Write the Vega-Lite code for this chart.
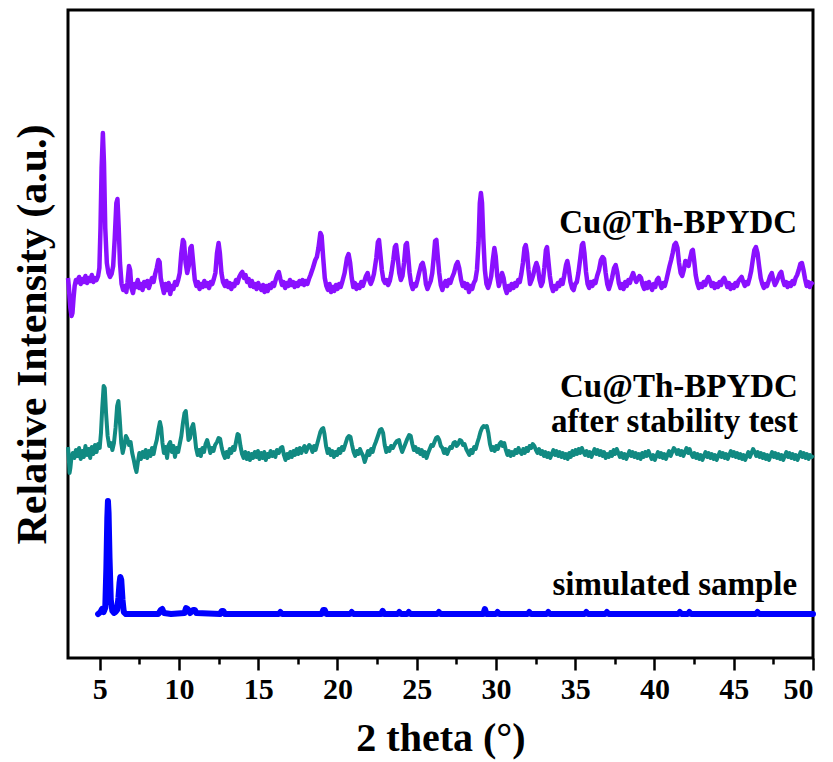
{
"$schema":"https://vega.github.io/schema/vega-lite/v6.json",
"width":745,"height":648,
"autosize":"none",
"padding":{"left":68,"top":10,"right":20,"bottom":104},
"config":{"view":{"stroke":"black","strokeWidth":3},"font":"Liberation Serif"},
"datasets":{
"p":[{"x":3.0,"y":380},{"x":3.05,"y":372},{"x":3.1,"y":360},{"x":3.15,"y":350},{"x":3.22,"y":342},{"x":3.28,"y":345},{"x":3.35,"y":360},{"x":3.42,"y":372},{"x":3.5,"y":378},{"x":3.6,"y":376},{"x":3.7,"y":381},{"x":3.8,"y":374},{"x":3.9,"y":379},{"x":4.0,"y":376},{"x":4.1,"y":382},{"x":4.2,"y":375},{"x":4.3,"y":380},{"x":4.4,"y":377},{"x":4.5,"y":383},{"x":4.6,"y":376},{"x":4.7,"y":380},{"x":4.8,"y":378},{"x":4.9,"y":382},{"x":4.98,"y":390},{"x":5.05,"y":430},{"x":5.12,"y":490},{"x":5.2,"y":525},{"x":5.27,"y":495},{"x":5.35,"y":430},{"x":5.45,"y":395},{"x":5.55,"y":385},{"x":5.65,"y":381},{"x":5.75,"y":384},{"x":5.85,"y":392},{"x":5.95,"y":420},{"x":6.05,"y":455},{"x":6.12,"y":459},{"x":6.2,"y":430},{"x":6.28,"y":395},{"x":6.38,"y":374},{"x":6.48,"y":368},{"x":6.58,"y":372},{"x":6.68,"y":366},{"x":6.75,"y":375},{"x":6.85,"y":392},{"x":6.92,"y":388},{"x":7.0,"y":370},{"x":7.1,"y":365},{"x":7.2,"y":374},{"x":7.3,"y":371},{"x":7.4,"y":378},{"x":7.5,"y":370},{"x":7.6,"y":374},{"x":7.7,"y":368},{"x":7.8,"y":376},{"x":7.9,"y":372},{"x":8.0,"y":377},{"x":8.1,"y":370},{"x":8.2,"y":375},{"x":8.3,"y":380},{"x":8.4,"y":376},{"x":8.5,"y":384},{"x":8.6,"y":390},{"x":8.7,"y":398},{"x":8.78,"y":396},{"x":8.85,"y":380},{"x":8.95,"y":372},{"x":9.05,"y":365},{"x":9.15,"y":374},{"x":9.25,"y":368},{"x":9.35,"y":375},{"x":9.45,"y":364},{"x":9.55,"y":372},{"x":9.65,"y":369},{"x":9.75,"y":376},{"x":9.85,"y":373},{"x":9.95,"y":378},{"x":10.05,"y":385},{"x":10.15,"y":405},{"x":10.25,"y":418},{"x":10.32,"y":416},{"x":10.42,"y":395},{"x":10.52,"y":385},{"x":10.62,"y":392},{"x":10.72,"y":410},{"x":10.8,"y":412},{"x":10.9,"y":395},{"x":11.0,"y":378},{"x":11.1,"y":372},{"x":11.2,"y":376},{"x":11.3,"y":369},{"x":11.4,"y":374},{"x":11.5,"y":371},{"x":11.6,"y":377},{"x":11.7,"y":372},{"x":11.8,"y":375},{"x":11.9,"y":370},{"x":12.0,"y":376},{"x":12.1,"y":374},{"x":12.2,"y":379},{"x":12.3,"y":385},{"x":12.4,"y":405},{"x":12.5,"y":415},{"x":12.58,"y":405},{"x":12.68,"y":385},{"x":12.78,"y":376},{"x":12.9,"y":372},{"x":13.0,"y":377},{"x":13.1,"y":371},{"x":13.2,"y":375},{"x":13.3,"y":369},{"x":13.4,"y":374},{"x":13.5,"y":372},{"x":13.6,"y":378},{"x":13.7,"y":375},{"x":13.8,"y":381},{"x":13.9,"y":384},{"x":14.0,"y":386},{"x":14.1,"y":380},{"x":14.2,"y":383},{"x":14.3,"y":376},{"x":14.4,"y":379},{"x":14.5,"y":372},{"x":14.6,"y":377},{"x":14.7,"y":371},{"x":14.8,"y":374},{"x":14.9,"y":369},{"x":15.0,"y":375},{"x":15.1,"y":371},{"x":15.2,"y":368},{"x":15.3,"y":373},{"x":15.4,"y":366},{"x":15.5,"y":372},{"x":15.6,"y":367},{"x":15.7,"y":373},{"x":15.8,"y":370},{"x":15.9,"y":375},{"x":16.0,"y":372},{"x":16.1,"y":378},{"x":16.2,"y":383},{"x":16.3,"y":386},{"x":16.4,"y":379},{"x":16.5,"y":373},{"x":16.6,"y":376},{"x":16.7,"y":370},{"x":16.8,"y":375},{"x":16.9,"y":372},{"x":17.0,"y":378},{"x":17.1,"y":373},{"x":17.2,"y":376},{"x":17.3,"y":371},{"x":17.4,"y":375},{"x":17.5,"y":372},{"x":17.6,"y":377},{"x":17.7,"y":374},{"x":17.8,"y":378},{"x":17.9,"y":373},{"x":18.0,"y":377},{"x":18.1,"y":374},{"x":18.2,"y":379},{"x":18.3,"y":383},{"x":18.45,"y":390},{"x":18.6,"y":398},{"x":18.7,"y":401},{"x":18.8,"y":410},{"x":18.92,"y":425},{"x":19.0,"y":422},{"x":19.1,"y":400},{"x":19.2,"y":380},{"x":19.3,"y":372},{"x":19.4,"y":368},{"x":19.5,"y":374},{"x":19.6,"y":366},{"x":19.7,"y":371},{"x":19.8,"y":367},{"x":19.9,"y":373},{"x":20.0,"y":369},{"x":20.1,"y":374},{"x":20.2,"y":371},{"x":20.3,"y":376},{"x":20.45,"y":385},{"x":20.6,"y":400},{"x":20.7,"y":404},{"x":20.8,"y":395},{"x":20.9,"y":380},{"x":21.0,"y":371},{"x":21.1,"y":375},{"x":21.2,"y":369},{"x":21.3,"y":373},{"x":21.4,"y":370},{"x":21.5,"y":376},{"x":21.6,"y":372},{"x":21.7,"y":377},{"x":21.8,"y":382},{"x":21.9,"y":385},{"x":22.0,"y":378},{"x":22.1,"y":374},{"x":22.2,"y":378},{"x":22.3,"y":384},{"x":22.45,"y":400},{"x":22.55,"y":416},{"x":22.62,"y":418},{"x":22.7,"y":405},{"x":22.8,"y":388},{"x":22.9,"y":378},{"x":23.0,"y":375},{"x":23.1,"y":378},{"x":23.2,"y":373},{"x":23.3,"y":377},{"x":23.4,"y":385},{"x":23.52,"y":398},{"x":23.62,"y":411},{"x":23.7,"y":413},{"x":23.8,"y":400},{"x":23.9,"y":385},{"x":24.0,"y":378},{"x":24.1,"y":382},{"x":24.2,"y":395},{"x":24.3,"y":413},{"x":24.38,"y":415},{"x":24.46,"y":402},{"x":24.55,"y":385},{"x":24.65,"y":374},{"x":24.75,"y":369},{"x":24.85,"y":374},{"x":24.95,"y":372},{"x":25.05,"y":378},{"x":25.15,"y":385},{"x":25.28,"y":393},{"x":25.38,"y":395},{"x":25.48,"y":388},{"x":25.58,"y":374},{"x":25.68,"y":369},{"x":25.78,"y":373},{"x":25.88,"y":377},{"x":25.98,"y":385},{"x":26.08,"y":402},{"x":26.16,"y":417},{"x":26.24,"y":418},{"x":26.32,"y":403},{"x":26.42,"y":385},{"x":26.52,"y":373},{"x":26.62,"y":368},{"x":26.72,"y":374},{"x":26.82,"y":377},{"x":26.92,"y":372},{"x":27.02,"y":378},{"x":27.12,"y":375},{"x":27.22,"y":380},{"x":27.35,"y":385},{"x":27.48,"y":393},{"x":27.58,"y":396},{"x":27.68,"y":390},{"x":27.8,"y":378},{"x":27.9,"y":372},{"x":28.0,"y":375},{"x":28.1,"y":370},{"x":28.2,"y":374},{"x":28.3,"y":366},{"x":28.4,"y":372},{"x":28.5,"y":369},{"x":28.6,"y":375},{"x":28.7,"y":378},{"x":28.8,"y":388},{"x":28.9,"y":415},{"x":28.98,"y":455},{"x":29.05,"y":465},{"x":29.12,"y":455},{"x":29.2,"y":420},{"x":29.3,"y":388},{"x":29.4,"y":374},{"x":29.5,"y":370},{"x":29.6,"y":375},{"x":29.7,"y":382},{"x":29.8,"y":398},{"x":29.9,"y":410},{"x":29.98,"y":402},{"x":30.08,"y":382},{"x":30.18,"y":372},{"x":30.28,"y":378},{"x":30.38,"y":385},{"x":30.48,"y":380},{"x":30.58,"y":370},{"x":30.68,"y":365},{"x":30.78,"y":372},{"x":30.88,"y":368},{"x":30.98,"y":374},{"x":31.1,"y":370},{"x":31.2,"y":375},{"x":31.3,"y":372},{"x":31.4,"y":378},{"x":31.5,"y":376},{"x":31.6,"y":384},{"x":31.7,"y":395},{"x":31.8,"y":410},{"x":31.88,"y":413},{"x":31.96,"y":405},{"x":32.05,"y":388},{"x":32.15,"y":374},{"x":32.25,"y":378},{"x":32.35,"y":383},{"x":32.45,"y":390},{"x":32.55,"y":395},{"x":32.65,"y":390},{"x":32.75,"y":378},{"x":32.85,"y":372},{"x":32.95,"y":376},{"x":33.05,"y":390},{"x":33.15,"y":408},{"x":33.22,"y":411},{"x":33.3,"y":398},{"x":33.4,"y":382},{"x":33.5,"y":372},{"x":33.6,"y":367},{"x":33.7,"y":372},{"x":33.8,"y":369},{"x":33.9,"y":375},{"x":34.0,"y":372},{"x":34.1,"y":378},{"x":34.2,"y":374},{"x":34.3,"y":382},{"x":34.42,"y":393},{"x":34.5,"y":397},{"x":34.58,"y":390},{"x":34.7,"y":376},{"x":34.8,"y":370},{"x":34.9,"y":368},{"x":35.0,"y":374},{"x":35.1,"y":376},{"x":35.2,"y":385},{"x":35.32,"y":400},{"x":35.42,"y":413},{"x":35.5,"y":415},{"x":35.58,"y":405},{"x":35.68,"y":386},{"x":35.78,"y":374},{"x":35.88,"y":370},{"x":35.98,"y":376},{"x":36.08,"y":372},{"x":36.18,"y":377},{"x":36.28,"y":375},{"x":36.38,"y":382},{"x":36.5,"y":388},{"x":36.62,"y":398},{"x":36.72,"y":401},{"x":36.82,"y":399},{"x":36.92,"y":385},{"x":37.02,"y":374},{"x":37.12,"y":369},{"x":37.22,"y":374},{"x":37.32,"y":380},{"x":37.45,"y":390},{"x":37.55,"y":393},{"x":37.65,"y":386},{"x":37.75,"y":375},{"x":37.85,"y":370},{"x":37.95,"y":374},{"x":38.05,"y":369},{"x":38.15,"y":376},{"x":38.25,"y":372},{"x":38.35,"y":378},{"x":38.45,"y":375},{"x":38.55,"y":381},{"x":38.65,"y":385},{"x":38.75,"y":380},{"x":38.85,"y":376},{"x":38.95,"y":379},{"x":39.05,"y":382},{"x":39.15,"y":380},{"x":39.25,"y":373},{"x":39.35,"y":369},{"x":39.45,"y":375},{"x":39.55,"y":370},{"x":39.65,"y":376},{"x":39.75,"y":372},{"x":39.85,"y":368},{"x":39.95,"y":374},{"x":40.05,"y":371},{"x":40.15,"y":378},{"x":40.25,"y":380},{"x":40.35,"y":374},{"x":40.45,"y":370},{"x":40.55,"y":375},{"x":40.65,"y":372},{"x":40.75,"y":378},{"x":40.85,"y":385},{"x":40.95,"y":392},{"x":41.05,"y":398},{"x":41.15,"y":405},{"x":41.25,"y":413},{"x":41.35,"y":415},{"x":41.45,"y":410},{"x":41.55,"y":395},{"x":41.65,"y":385},{"x":41.75,"y":382},{"x":41.85,"y":388},{"x":41.95,"y":397},{"x":42.05,"y":396},{"x":42.15,"y":392},{"x":42.25,"y":400},{"x":42.35,"y":407},{"x":42.42,"y":408},{"x":42.5,"y":398},{"x":42.6,"y":383},{"x":42.7,"y":375},{"x":42.8,"y":370},{"x":42.9,"y":374},{"x":43.0,"y":371},{"x":43.1,"y":376},{"x":43.2,"y":373},{"x":43.3,"y":378},{"x":43.4,"y":381},{"x":43.5,"y":377},{"x":43.6,"y":372},{"x":43.7,"y":375},{"x":43.8,"y":370},{"x":43.9,"y":374},{"x":44.0,"y":371},{"x":44.1,"y":376},{"x":44.2,"y":373},{"x":44.3,"y":378},{"x":44.4,"y":380},{"x":44.5,"y":376},{"x":44.6,"y":371},{"x":44.7,"y":375},{"x":44.8,"y":369},{"x":44.9,"y":373},{"x":45.0,"y":370},{"x":45.1,"y":375},{"x":45.2,"y":372},{"x":45.3,"y":377},{"x":45.4,"y":379},{"x":45.5,"y":381},{"x":45.6,"y":376},{"x":45.7,"y":372},{"x":45.8,"y":376},{"x":45.9,"y":374},{"x":46.0,"y":380},{"x":46.1,"y":387},{"x":46.2,"y":398},{"x":46.3,"y":408},{"x":46.4,"y":411},{"x":46.5,"y":405},{"x":46.6,"y":392},{"x":46.7,"y":380},{"x":46.8,"y":374},{"x":46.9,"y":370},{"x":47.0,"y":374},{"x":47.1,"y":372},{"x":47.2,"y":377},{"x":47.3,"y":382},{"x":47.4,"y":385},{"x":47.5,"y":378},{"x":47.6,"y":373},{"x":47.7,"y":376},{"x":47.8,"y":380},{"x":47.9,"y":384},{"x":48.0,"y":386},{"x":48.1,"y":378},{"x":48.2,"y":373},{"x":48.3,"y":376},{"x":48.4,"y":371},{"x":48.5,"y":375},{"x":48.6,"y":372},{"x":48.7,"y":377},{"x":48.8,"y":374},{"x":48.9,"y":380},{"x":49.0,"y":383},{"x":49.1,"y":388},{"x":49.2,"y":394},{"x":49.3,"y":395},{"x":49.4,"y":388},{"x":49.5,"y":379},{"x":49.6,"y":372},{"x":49.7,"y":376},{"x":49.8,"y":371},{"x":49.9,"y":375},{"x":50.0,"y":373}],
"t":[{"x":3.0,"y":211},{"x":3.05,"y":200},{"x":3.1,"y":185},{"x":3.15,"y":190},{"x":3.2,"y":198},{"x":3.3,"y":205},{"x":3.4,"y":200},{"x":3.5,"y":208},{"x":3.6,"y":202},{"x":3.7,"y":210},{"x":3.8,"y":199},{"x":3.9,"y":207},{"x":4.0,"y":201},{"x":4.1,"y":212},{"x":4.2,"y":203},{"x":4.3,"y":209},{"x":4.4,"y":200},{"x":4.5,"y":211},{"x":4.6,"y":204},{"x":4.7,"y":213},{"x":4.8,"y":206},{"x":4.9,"y":214},{"x":5.0,"y":210},{"x":5.08,"y":225},{"x":5.16,"y":250},{"x":5.25,"y":272},{"x":5.32,"y":270},{"x":5.4,"y":245},{"x":5.5,"y":222},{"x":5.6,"y":212},{"x":5.7,"y":215},{"x":5.8,"y":208},{"x":5.9,"y":215},{"x":6.0,"y":230},{"x":6.1,"y":252},{"x":6.18,"y":257},{"x":6.26,"y":240},{"x":6.36,"y":215},{"x":6.45,"y":205},{"x":6.55,"y":212},{"x":6.65,"y":222},{"x":6.75,"y":219},{"x":6.85,"y":213},{"x":6.95,"y":216},{"x":7.05,"y":205},{"x":7.15,"y":198},{"x":7.25,"y":190},{"x":7.32,"y":186},{"x":7.4,"y":195},{"x":7.5,"y":205},{"x":7.6,"y":199},{"x":7.7,"y":206},{"x":7.8,"y":201},{"x":7.9,"y":208},{"x":8.0,"y":200},{"x":8.1,"y":207},{"x":8.2,"y":202},{"x":8.3,"y":210},{"x":8.4,"y":204},{"x":8.5,"y":212},{"x":8.6,"y":218},{"x":8.7,"y":228},{"x":8.8,"y":236},{"x":8.88,"y":230},{"x":8.96,"y":215},{"x":9.05,"y":205},{"x":9.15,"y":211},{"x":9.25,"y":200},{"x":9.35,"y":213},{"x":9.45,"y":216},{"x":9.55,"y":206},{"x":9.65,"y":212},{"x":9.75,"y":201},{"x":9.85,"y":210},{"x":9.95,"y":206},{"x":10.05,"y":214},{"x":10.15,"y":222},{"x":10.25,"y":235},{"x":10.35,"y":245},{"x":10.43,"y":247},{"x":10.52,"y":232},{"x":10.6,"y":218},{"x":10.7,"y":220},{"x":10.8,"y":230},{"x":10.9,"y":234},{"x":10.98,"y":225},{"x":11.08,"y":210},{"x":11.18,"y":203},{"x":11.28,"y":208},{"x":11.38,"y":202},{"x":11.48,"y":210},{"x":11.58,"y":206},{"x":11.68,"y":214},{"x":11.78,"y":218},{"x":11.88,"y":212},{"x":11.98,"y":205},{"x":12.08,"y":210},{"x":12.18,"y":207},{"x":12.28,"y":213},{"x":12.4,"y":216},{"x":12.5,"y":220},{"x":12.6,"y":219},{"x":12.7,"y":210},{"x":12.8,"y":204},{"x":12.9,"y":200},{"x":13.0,"y":206},{"x":13.1,"y":201},{"x":13.2,"y":209},{"x":13.3,"y":205},{"x":13.4,"y":211},{"x":13.5,"y":208},{"x":13.6,"y":216},{"x":13.7,"y":224},{"x":13.78,"y":223},{"x":13.88,"y":212},{"x":13.98,"y":204},{"x":14.08,"y":200},{"x":14.18,"y":206},{"x":14.28,"y":199},{"x":14.38,"y":205},{"x":14.48,"y":198},{"x":14.58,"y":204},{"x":14.68,"y":200},{"x":14.78,"y":206},{"x":14.88,"y":201},{"x":14.98,"y":207},{"x":15.08,"y":199},{"x":15.18,"y":205},{"x":15.28,"y":200},{"x":15.38,"y":206},{"x":15.48,"y":198},{"x":15.58,"y":204},{"x":15.68,"y":201},{"x":15.78,"y":207},{"x":15.88,"y":202},{"x":15.98,"y":206},{"x":16.08,"y":201},{"x":16.18,"y":208},{"x":16.3,"y":205},{"x":16.42,"y":210},{"x":16.52,"y":211},{"x":16.62,"y":203},{"x":16.72,"y":198},{"x":16.82,"y":204},{"x":16.92,"y":200},{"x":17.02,"y":206},{"x":17.12,"y":201},{"x":17.22,"y":207},{"x":17.32,"y":203},{"x":17.42,"y":209},{"x":17.52,"y":204},{"x":17.62,"y":210},{"x":17.72,"y":205},{"x":17.82,"y":209},{"x":17.92,"y":212},{"x":18.02,"y":206},{"x":18.12,"y":210},{"x":18.22,"y":213},{"x":18.32,"y":211},{"x":18.42,"y":206},{"x":18.52,"y":212},{"x":18.62,"y":208},{"x":18.72,"y":214},{"x":18.82,"y":220},{"x":18.92,"y":226},{"x":19.02,"y":229},{"x":19.1,"y":230},{"x":19.18,"y":224},{"x":19.28,"y":212},{"x":19.38,"y":205},{"x":19.48,"y":209},{"x":19.58,"y":203},{"x":19.68,"y":207},{"x":19.78,"y":201},{"x":19.88,"y":206},{"x":19.98,"y":203},{"x":20.08,"y":209},{"x":20.18,"y":205},{"x":20.28,"y":211},{"x":20.38,"y":208},{"x":20.5,"y":214},{"x":20.62,"y":220},{"x":20.72,"y":222},{"x":20.82,"y":221},{"x":20.92,"y":213},{"x":21.02,"y":206},{"x":21.12,"y":202},{"x":21.22,"y":207},{"x":21.32,"y":204},{"x":21.42,"y":209},{"x":21.52,"y":205},{"x":21.62,"y":202},{"x":21.72,"y":196},{"x":21.82,"y":201},{"x":21.92,"y":207},{"x":22.02,"y":203},{"x":22.12,"y":209},{"x":22.22,"y":206},{"x":22.32,"y":212},{"x":22.42,"y":216},{"x":22.55,"y":222},{"x":22.68,"y":228},{"x":22.78,"y":229},{"x":22.88,"y":225},{"x":22.98,"y":213},{"x":23.08,"y":206},{"x":23.18,"y":210},{"x":23.28,"y":207},{"x":23.38,"y":212},{"x":23.5,"y":210},{"x":23.62,"y":214},{"x":23.75,"y":217},{"x":23.88,"y":218},{"x":23.98,"y":211},{"x":24.08,"y":206},{"x":24.18,"y":210},{"x":24.28,"y":214},{"x":24.4,"y":219},{"x":24.52,"y":223},{"x":24.62,"y":222},{"x":24.72,"y":214},{"x":24.82,"y":208},{"x":24.92,"y":211},{"x":25.02,"y":206},{"x":25.12,"y":209},{"x":25.22,"y":204},{"x":25.32,"y":208},{"x":25.42,"y":202},{"x":25.52,"y":206},{"x":25.62,"y":200},{"x":25.72,"y":205},{"x":25.82,"y":209},{"x":25.92,"y":213},{"x":26.02,"y":212},{"x":26.12,"y":216},{"x":26.22,"y":220},{"x":26.32,"y":221},{"x":26.42,"y":218},{"x":26.52,"y":212},{"x":26.62,"y":210},{"x":26.72,"y":205},{"x":26.82,"y":209},{"x":26.92,"y":204},{"x":27.02,"y":208},{"x":27.12,"y":211},{"x":27.22,"y":210},{"x":27.32,"y":215},{"x":27.42,"y":216},{"x":27.52,"y":212},{"x":27.62,"y":214},{"x":27.72,"y":218},{"x":27.82,"y":217},{"x":27.92,"y":213},{"x":28.02,"y":214},{"x":28.12,"y":209},{"x":28.22,"y":206},{"x":28.32,"y":203},{"x":28.42,"y":208},{"x":28.52,"y":205},{"x":28.62,"y":211},{"x":28.72,"y":209},{"x":28.82,"y":215},{"x":28.92,"y":220},{"x":29.02,"y":226},{"x":29.12,"y":230},{"x":29.22,"y":232},{"x":29.32,"y":231},{"x":29.42,"y":232},{"x":29.52,"y":225},{"x":29.62,"y":214},{"x":29.72,"y":208},{"x":29.82,"y":211},{"x":29.92,"y":207},{"x":30.02,"y":212},{"x":30.12,"y":209},{"x":30.22,"y":214},{"x":30.32,"y":216},{"x":30.42,"y":212},{"x":30.52,"y":215},{"x":30.62,"y":208},{"x":30.72,"y":203},{"x":30.82,"y":207},{"x":30.92,"y":202},{"x":31.02,"y":206},{"x":31.12,"y":203},{"x":31.22,"y":208},{"x":31.32,"y":205},{"x":31.42,"y":210},{"x":31.52,"y":206},{"x":31.62,"y":204},{"x":31.72,"y":209},{"x":31.82,"y":205},{"x":31.92,"y":210},{"x":32.02,"y":207},{"x":32.12,"y":212},{"x":32.22,"y":210},{"x":32.32,"y":214},{"x":32.42,"y":212},{"x":32.52,"y":208},{"x":32.62,"y":205},{"x":32.72,"y":209},{"x":32.82,"y":204},{"x":32.92,"y":207},{"x":33.02,"y":202},{"x":33.12,"y":206},{"x":33.22,"y":201},{"x":33.32,"y":205},{"x":33.42,"y":200},{"x":33.52,"y":204},{"x":33.62,"y":208},{"x":33.72,"y":203},{"x":33.82,"y":207},{"x":33.92,"y":202},{"x":34.02,"y":206},{"x":34.12,"y":201},{"x":34.22,"y":205},{"x":34.32,"y":200},{"x":34.42,"y":204},{"x":34.52,"y":199},{"x":34.62,"y":205},{"x":34.72,"y":201},{"x":34.82,"y":207},{"x":34.92,"y":203},{"x":35.02,"y":208},{"x":35.12,"y":204},{"x":35.22,"y":209},{"x":35.32,"y":205},{"x":35.42,"y":210},{"x":35.52,"y":206},{"x":35.62,"y":203},{"x":35.72,"y":207},{"x":35.82,"y":202},{"x":35.92,"y":206},{"x":36.02,"y":201},{"x":36.12,"y":205},{"x":36.22,"y":209},{"x":36.32,"y":204},{"x":36.42,"y":208},{"x":36.52,"y":203},{"x":36.62,"y":207},{"x":36.72,"y":202},{"x":36.82,"y":206},{"x":36.92,"y":200},{"x":37.02,"y":204},{"x":37.12,"y":201},{"x":37.22,"y":206},{"x":37.32,"y":202},{"x":37.42,"y":208},{"x":37.52,"y":204},{"x":37.62,"y":209},{"x":37.72,"y":205},{"x":37.82,"y":201},{"x":37.92,"y":205},{"x":38.02,"y":200},{"x":38.12,"y":204},{"x":38.22,"y":199},{"x":38.32,"y":203},{"x":38.42,"y":207},{"x":38.52,"y":202},{"x":38.62,"y":206},{"x":38.72,"y":201},{"x":38.82,"y":205},{"x":38.92,"y":200},{"x":39.02,"y":204},{"x":39.12,"y":199},{"x":39.22,"y":205},{"x":39.32,"y":201},{"x":39.42,"y":206},{"x":39.52,"y":202},{"x":39.62,"y":207},{"x":39.72,"y":203},{"x":39.82,"y":199},{"x":39.92,"y":203},{"x":40.02,"y":198},{"x":40.12,"y":202},{"x":40.22,"y":206},{"x":40.32,"y":201},{"x":40.42,"y":205},{"x":40.52,"y":200},{"x":40.62,"y":204},{"x":40.72,"y":199},{"x":40.82,"y":203},{"x":40.92,"y":207},{"x":41.02,"y":202},{"x":41.12,"y":206},{"x":41.22,"y":210},{"x":41.32,"y":208},{"x":41.42,"y":204},{"x":41.52,"y":208},{"x":41.62,"y":203},{"x":41.72,"y":207},{"x":41.82,"y":202},{"x":41.92,"y":206},{"x":42.02,"y":210},{"x":42.12,"y":205},{"x":42.22,"y":209},{"x":42.32,"y":204},{"x":42.42,"y":201},{"x":42.52,"y":205},{"x":42.62,"y":200},{"x":42.72,"y":204},{"x":42.82,"y":199},{"x":42.92,"y":203},{"x":43.02,"y":198},{"x":43.12,"y":202},{"x":43.22,"y":206},{"x":43.32,"y":201},{"x":43.42,"y":205},{"x":43.52,"y":200},{"x":43.62,"y":204},{"x":43.72,"y":199},{"x":43.82,"y":203},{"x":43.92,"y":198},{"x":44.02,"y":202},{"x":44.12,"y":206},{"x":44.22,"y":201},{"x":44.32,"y":205},{"x":44.42,"y":200},{"x":44.52,"y":204},{"x":44.62,"y":199},{"x":44.72,"y":203},{"x":44.82,"y":207},{"x":44.92,"y":202},{"x":45.02,"y":206},{"x":45.12,"y":201},{"x":45.22,"y":205},{"x":45.32,"y":200},{"x":45.42,"y":204},{"x":45.52,"y":199},{"x":45.62,"y":203},{"x":45.72,"y":198},{"x":45.82,"y":202},{"x":45.92,"y":206},{"x":46.02,"y":201},{"x":46.12,"y":205},{"x":46.22,"y":209},{"x":46.32,"y":206},{"x":46.42,"y":202},{"x":46.52,"y":206},{"x":46.62,"y":201},{"x":46.72,"y":205},{"x":46.82,"y":200},{"x":46.92,"y":204},{"x":47.02,"y":199},{"x":47.12,"y":203},{"x":47.22,"y":198},{"x":47.32,"y":202},{"x":47.42,"y":206},{"x":47.52,"y":201},{"x":47.62,"y":205},{"x":47.72,"y":200},{"x":47.82,"y":204},{"x":47.92,"y":199},{"x":48.02,"y":203},{"x":48.12,"y":198},{"x":48.22,"y":202},{"x":48.32,"y":206},{"x":48.42,"y":201},{"x":48.52,"y":205},{"x":48.62,"y":200},{"x":48.72,"y":204},{"x":48.82,"y":199},{"x":48.92,"y":203},{"x":49.02,"y":198},{"x":49.12,"y":202},{"x":49.22,"y":206},{"x":49.32,"y":201},{"x":49.42,"y":205},{"x":49.52,"y":200},{"x":49.62,"y":204},{"x":49.72,"y":199},{"x":49.82,"y":203},{"x":49.92,"y":201},{"x":50.0,"y":203}],
"b":[{"x":4.9,"y":44},{"x":5.05,"y":46},{"x":5.15,"y":49},{"x":5.25,"y":46},{"x":5.35,"y":50},{"x":5.42,"y":90},{"x":5.48,"y":140},{"x":5.52,"y":157},{"x":5.56,"y":145},{"x":5.62,"y":100},{"x":5.7,"y":58},{"x":5.8,"y":47},{"x":5.9,"y":45},{"x":6.0,"y":46},{"x":6.1,"y":48},{"x":6.18,"y":60},{"x":6.25,"y":75},{"x":6.3,"y":81},{"x":6.36,"y":78},{"x":6.44,"y":58},{"x":6.52,"y":46},{"x":6.65,"y":44},{"x":7.0,"y":44},{"x":8.0,"y":44},{"x":8.7,"y":44},{"x":8.85,"y":48},{"x":8.95,"y":49},{"x":9.05,"y":45},{"x":9.5,"y":44},{"x":10.35,"y":45},{"x":10.45,"y":50},{"x":10.55,"y":49},{"x":10.7,"y":45},{"x":10.9,"y":48},{"x":11.0,"y":48},{"x":11.1,"y":45},{"x":12.6,"y":44},{"x":12.7,"y":47},{"x":12.8,"y":47},{"x":12.9,"y":44},{"x":16.3,"y":44},{"x":16.4,"y":46},{"x":16.5,"y":44},{"x":19.0,"y":44},{"x":19.1,"y":48},{"x":19.2,"y":48},{"x":19.3,"y":44},{"x":20.8,"y":44},{"x":20.9,"y":46},{"x":21.0,"y":44},{"x":22.75,"y":44},{"x":22.85,"y":47},{"x":22.95,"y":44},{"x":23.8,"y":44},{"x":23.9,"y":46},{"x":24.0,"y":44},{"x":24.4,"y":44},{"x":24.5,"y":46},{"x":24.6,"y":44},{"x":26.3,"y":44},{"x":26.4,"y":46},{"x":26.5,"y":44},{"x":29.2,"y":44},{"x":29.3,"y":49},{"x":29.4,"y":44},{"x":30.0,"y":44},{"x":30.1,"y":46},{"x":30.2,"y":44},{"x":32.0,"y":44},{"x":32.1,"y":46},{"x":32.2,"y":44},{"x":33.2,"y":44},{"x":33.3,"y":46},{"x":33.4,"y":44},{"x":35.6,"y":44},{"x":35.7,"y":46},{"x":35.8,"y":44},{"x":36.9,"y":44},{"x":37.0,"y":46},{"x":37.1,"y":44},{"x":41.5,"y":44},{"x":41.6,"y":46},{"x":41.7,"y":44},{"x":42.1,"y":44},{"x":42.2,"y":46},{"x":42.3,"y":44},{"x":46.4,"y":44},{"x":46.5,"y":46},{"x":46.6,"y":44},{"x":50.0,"y":44}],
"lab":[{"x":49.0,"y":425,"t":"Cu@Th-BPYDC"},{"x":49.05,"y":261,"t":"Cu@Th-BPYDC"},{"x":49.05,"y":226,"t":"after stability test"},{"x":49.0,"y":63,"t":"simulated sample"}]
},
"layer":[
{"data":{"name":"p"},"mark":{"type":"line","color":"#8A10FF","strokeWidth":4.5,"strokeJoin":"round"},
 "encoding":{
  "x":{"field":"x","type":"quantitative","scale":{"domain":[3,50],"nice":false,"zero":false},
   "axis":{"orient":"bottom","values":[5,10,15,20,25,30,35,40,45,50],"domain":false,"grid":false,"tickSize":12,"tickWidth":2.5,"tickColor":"black","labelFont":"Liberation Serif","labelFontWeight":"bold","labelFontSize":30,"labelColor":"black","labelPadding":4,"title":"2 theta (°)","titleFont":"Liberation Serif","titleFontWeight":"bold","titleFontSize":40,"titleColor":"black","titlePadding":14}},
  "y":{"field":"y","type":"quantitative","scale":{"domain":[0,648],"nice":false,"zero":false},
   "axis":{"orient":"left","domain":false,"grid":false,"ticks":false,"labels":false,"title":"Relative Intensity (a.u.)","titleFont":"Liberation Serif","titleFontWeight":"bold","titleFontSize":42,"titleColor":"black","titlePadding":14}}
 }},
{"data":{"name":"t"},"mark":{"type":"line","color":"#118A82","strokeWidth":4,"strokeJoin":"round"},
 "encoding":{"x":{"field":"x","type":"quantitative","axis":null},"y":{"field":"y","type":"quantitative","axis":null}}},
{"data":{"name":"b"},"mark":{"type":"line","color":"#0000FF","strokeWidth":6,"strokeJoin":"round","strokeCap":"round"},
 "encoding":{"x":{"field":"x","type":"quantitative","axis":null},"y":{"field":"y","type":"quantitative","axis":null}}},
{"data":{"name":"lab"},"mark":{"type":"text","align":"right","baseline":"alphabetic","font":"Liberation Serif","fontWeight":"bold","fontSize":33,"color":"black"},
 "encoding":{"x":{"field":"x","type":"quantitative",
   "axis":{"orient":"bottom","values":[7.5,12.5,17.5,22.5,27.5,32.5,37.5,42.5,47.5],"domain":false,"grid":false,"labels":false,"tickSize":6,"tickWidth":2.5,"tickColor":"black","title":null}},
  "y":{"field":"y","type":"quantitative","axis":null},"text":{"field":"t"}}}
],
"resolve":{"axis":{"x":"independent","y":"independent"}}
}
